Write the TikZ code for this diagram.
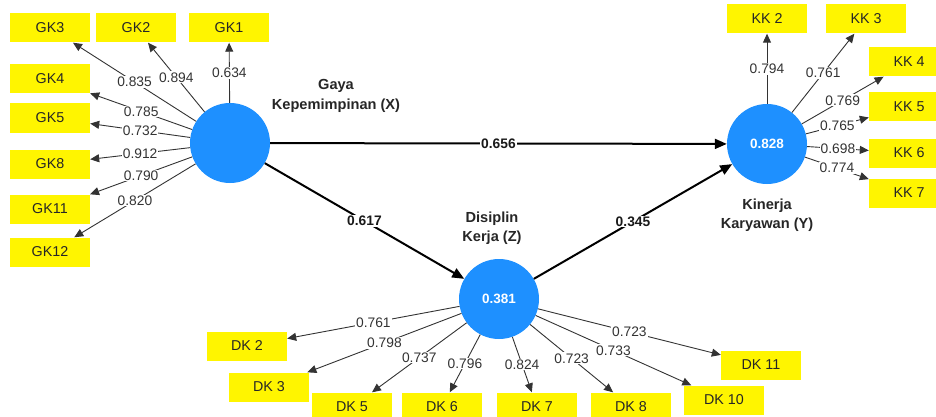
\documentclass[tikz,border=0pt]{standalone}
\usepackage{fontspec}
\setmainfont{Liberation Sans}
\usetikzlibrary{arrows.meta}
\definecolor{LvBlue}{HTML}{1E90FF}
\definecolor{IndYellow}{HTML}{FFF500}
\definecolor{LineGray}{HTML}{333333}

\begin{document}
\begin{tikzpicture}[x=1pt,y=-1pt,
    latent/.style={circle,fill=LvBlue,minimum size=80pt,inner sep=0pt,
      text=white,font=\fontsize{13.5}{15}\selectfont\bfseries},
    indbox/.style={fill=IndYellow,minimum width=80pt,minimum height=29pt,
      inner sep=0pt,text=black!85,font=\fontsize{14.3}{16}\selectfont},
    load/.style={-{Triangle[length=9pt,width=8pt]},LineGray,line width=0.9pt},
    struct/.style={-{Triangle[length=12pt,width=10pt]},black,line width=2pt},
    lbl/.style={fill=white,inner sep=1pt,text=LineGray,
      font=\fontsize{13.8}{15}\selectfont},
    slbl/.style={fill=white,inner sep=1pt,text=black!90,
      font=\fontsize{13.8}{15}\selectfont\bfseries},
    lvname/.style={align=center,text=black!85,
      font=\fontsize{14.6}{19.5}\selectfont\bfseries}]
  \useasboundingbox (0,0) rectangle (936,417);
  \clip (0,0) rectangle (936,417);

  % latent variables
  \node[latent] (X) at (230,143) {};
  \node[latent] (Y) at (767,144) {0.828};
  \node[latent] (Z) at (499,299) {0.381};
  \node[lvname] (Xname) at (336,96) {Gaya\\Kepemimpinan (X)};
  \node[lvname] (Yname) at (767,215) {Kinerja\\Karyawan (Y)};
  \node[lvname] (Zname) at (492,228) {Disiplin\\Kerja (Z)};

  % indicators
  \foreach \nm/\txt/\xx/\yy in {gk3/GK3/50/28,gk2/GK2/136/28,gk1/GK1/229/28,
      gk4/GK4/50/79,gk5/GK5/50/118,gk8/GK8/50/164,gk11/GK11/50/209,gk12/GK12/50/252,
      kk2/KK 2/767/19,kk3/KK 3/866/19,kk4/KK 4/909/62,kk5/KK 5/909/107,
      kk6/KK 6/909/153,kk7/KK 7/909/193,
      dk2/DK 2/247/346,dk3/DK 3/269/387,dk5/DK 5/352/407,dk6/DK 6/442/407,
      dk7/DK 7/537/407,dk8/DK 8/631/407,dk10/DK 10/724/400,dk11/DK 11/761/365} {
    \node[indbox] (\nm) at (\xx,\yy) {\txt};
  }

  % outer loadings
  \foreach \lv/\ind/\val in {X/gk1/0.634,X/gk2/0.894,X/gk3/0.835,X/gk4/0.785,
      X/gk5/0.732,X/gk8/0.912,X/gk11/0.790,X/gk12/0.820,
      Y/kk2/0.794,Y/kk3/0.761,Y/kk4/0.769,Y/kk5/0.765,Y/kk6/0.698,Y/kk7/0.774,
      Z/dk2/0.761,Z/dk3/0.798,Z/dk5/0.737,Z/dk6/0.796,Z/dk7/0.824,Z/dk8/0.723,
      Z/dk10/0.733,Z/dk11/0.723} {
    \draw[load] (\lv) -- node[lbl] {\val} (\ind);
  }

  % path coefficients
  \draw[struct] (X) -- node[slbl] {0.656} (Y);
  \draw[struct] (X) -- node[slbl] {0.617} (Z);
  \draw[struct] (Z) -- node[slbl] {0.345} (Y);
\end{tikzpicture}
\end{document}
